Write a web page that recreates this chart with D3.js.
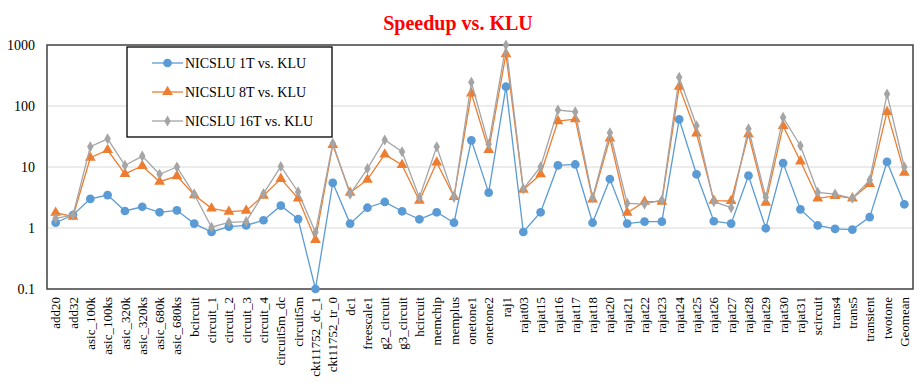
<!DOCTYPE html>
<html>
<head>
<meta charset="utf-8">
<script src="https://cdn.jsdelivr.net/npm/d3@7"></script>
<style>
  html, body { margin: 0; padding: 0; background: #fff; }
  svg { display: block; font-family: "Liberation Serif", "Times New Roman", serif; }
</style>
</head>
<body>
<svg id="chart" width="919" height="385"></svg>
<script>
const categories = ["add20","add32","asic_100k","asic_100ks","asic_320k","asic_320ks","asic_680k","asic_680ks","bcircuit","circuit_1","circuit_2","circuit_3","circuit_4","circuit5m_dc","circuit5m","ckt11752_dc_1","ckt11752_tr_0","dc1","freescale1","g2_circuit","g3_circuit","hcircuit","memchip","memplus","onetone1","onetone2","raj1","rajat03","rajat15","rajat16","rajat17","rajat18","rajat20","rajat21","rajat22","rajat23","rajat24","rajat25","rajat26","rajat27","rajat28","rajat29","rajat30","rajat31","scircuit","trans4","trans5","transient","twotone","Geomean"];

const series1T = [1.22,1.63,3.0,3.47,1.9,2.23,1.81,1.95,1.18,0.86,1.05,1.1,1.34,2.32,1.4,0.1,5.5,1.18,2.15,2.67,1.88,1.39,1.81,1.22,27.4,3.8,207,0.86,1.81,10.6,11.0,1.22,6.35,1.18,1.27,1.27,60.5,7.6,1.29,1.18,7.2,0.99,11.6,2.02,1.1,0.97,0.94,1.51,12.1,2.45];
const series8T = [1.78,1.53,14.2,19,7.7,10.4,5.75,7.1,3.47,2.1,1.85,1.92,3.4,6.4,3.07,0.64,23,3.8,6.2,16.1,10.8,2.8,11.9,3.25,161,19,710,4.25,7.6,56.6,61,2.95,29.5,1.78,2.7,2.7,207,35.7,2.8,2.77,34.4,2.6,47,12.4,3.07,3.35,3.07,5.3,80,8.1];
const series16T = [1.44,1.63,21.5,29,10.6,15.1,7.6,10,3.57,1.03,1.24,1.27,3.65,10.2,3.9,0.85,24.5,3.57,9.4,27.7,17.8,3.14,21.5,3.18,245,23.5,1000,4.36,10.1,86,80,3.14,36.4,2.54,2.47,2.88,295,47.5,2.7,2.15,42.4,3.18,65,22.3,3.85,3.6,3.07,6.1,157,10];

const yTicks = [0.1, 1, 10, 100, 1000];
const seriesNames = ["NICSLU 1T vs. KLU", "NICSLU 8T vs. KLU", "NICSLU 16T vs. KLU"];
const seriesColors = ["#5b9bd5", "#ed7d31", "#a5a5a5"];
const seriesMarkers = ["circle", "triangle", "diamond"];
const title = "Speedup vs. KLU";

const svg = d3.select("#chart");
const L = 47, R = 913, T = 45, B = 289;

const x = d3.scaleBand().domain(categories).range([L, R]);
const cx = c => x(c) + x.bandwidth() / 2;
const y = d3.scaleLog().domain([0.1, 1000]).range([B, T]);

// title
svg.append("text").attr("x", 458).attr("y", 30).attr("text-anchor", "middle")
  .attr("font-size", 20).attr("font-weight", "bold").attr("fill", "#ff0000").text(title);

// gridlines
svg.append("g").selectAll("line").data(yTicks.filter(t => t > 0.1 && t < 1000)).join("line")
  .attr("x1", L).attr("x2", R).attr("y1", d => y(d)).attr("y2", d => y(d))
  .attr("stroke", "#d9d9d9").attr("stroke-width", 1);

// y axis labels
const yAxis = d3.axisLeft(y).tickValues(yTicks).tickFormat(d => String(d)).tickSize(0).tickPadding(12);
const gy = svg.append("g").attr("transform", `translate(${L},0)`).call(yAxis);
gy.select(".domain").remove();
gy.selectAll("text").attr("font-size", 14).attr("font-family", "Liberation Serif, Times New Roman, serif").attr("fill", "#000");

// x axis labels
const xAxis = d3.axisBottom(x).tickSize(0).tickPadding(0);
const gx = svg.append("g").attr("transform", `translate(0,${B})`).call(xAxis);
gx.select(".domain").remove();
gx.selectAll("text")
  .attr("font-size", 13).attr("font-family", "Liberation Serif, Times New Roman, serif").attr("fill", "#000")
  .attr("transform", "rotate(-90)")
  .attr("text-anchor", "end")
  .attr("x", -8).attr("y", 0).attr("dy", "0.35em");

// plot frame
svg.append("rect").attr("x", L).attr("y", T).attr("width", R - L).attr("height", B - T)
  .attr("fill", "none").attr("stroke", "#404040").attr("stroke-width", 1.5);

const symbols = {
  circle: d3.symbol().type(d3.symbolCircle).size(60),
  triangle: d3.symbol().type(d3.symbolTriangle).size(50),
  diamond: d3.symbol().type(d3.symbolDiamond).size(36)
};

const allSeries = [series1T, series8T, series16T];
const line = d3.line().x((d, i) => cx(categories[i])).y(d => y(d));

allSeries.forEach((vals, si) => {
  const g = svg.append("g");
  g.append("path").datum(vals).attr("d", line).attr("fill", "none")
    .attr("stroke", seriesColors[si]).attr("stroke-width", 1.3);
  g.selectAll("path.m").data(vals).join("path").attr("class", "m")
    .attr("d", symbols[seriesMarkers[si]])
    .attr("transform", (d, i) => `translate(${cx(categories[i])},${y(d)})`)
    .attr("fill", seriesColors[si]);
});

// legend
const lg = svg.append("g");
lg.append("rect").attr("x", 127).attr("y", 47).attr("width", 205).attr("height", 90)
  .attr("fill", "#fff").attr("stroke", "#000").attr("stroke-width", 1.3);
seriesNames.forEach((name, i) => {
  const ly = 63 + i * 29;
  lg.append("line").attr("x1", 152).attr("x2", 183).attr("y1", ly).attr("y2", ly)
    .attr("stroke", seriesColors[i]).attr("stroke-width", 1.3);
  lg.append("path").attr("d", symbols[seriesMarkers[i]]).attr("transform", `translate(167.5,${ly})`)
    .attr("fill", seriesColors[i]);
  lg.append("text").attr("x", 185).attr("y", ly).attr("dy", "0.35em")
    .attr("font-size", 14).attr("fill", "#000").text(name);
});
</script>
</body>
</html>
